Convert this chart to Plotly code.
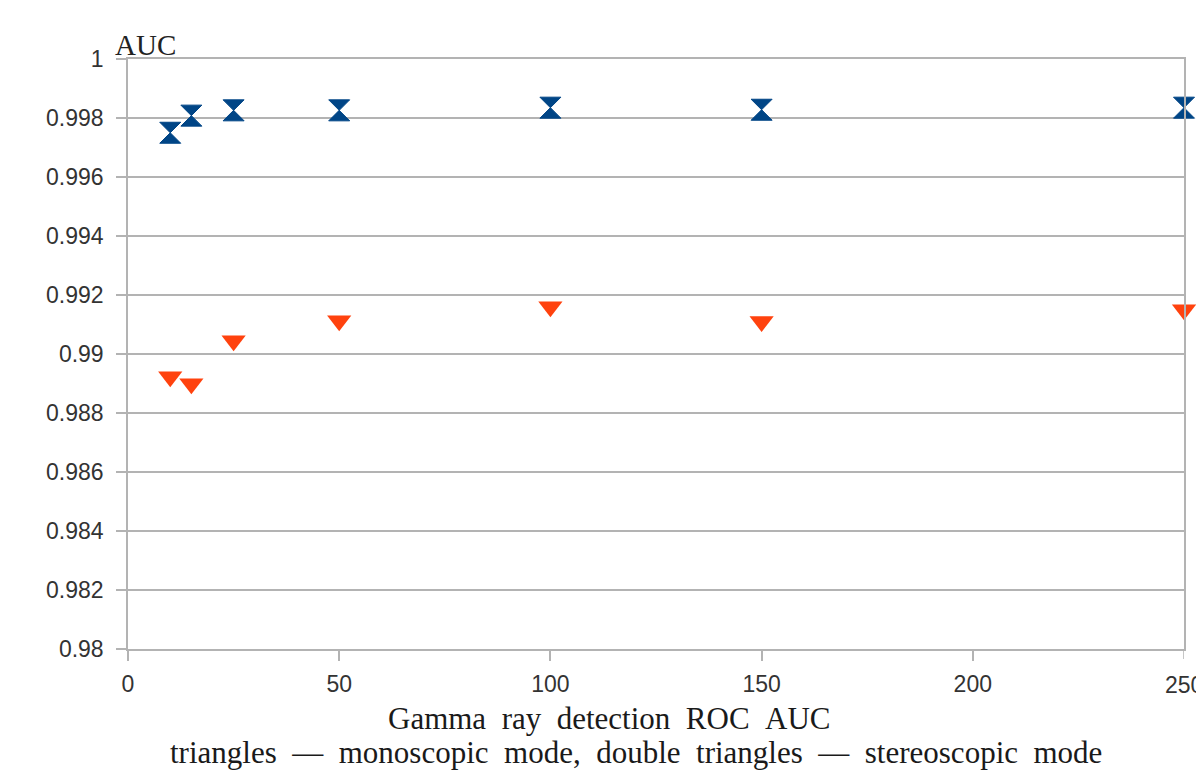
import plotly.graph_objects as go

# Data
sizes = [10, 15, 25, 50, 100, 150, 250]
stereo_auc = [0.99750, 0.99808, 0.99826, 0.99826, 0.99835, 0.99828, 0.99835]
mono_auc = [0.98923, 0.98899, 0.99045, 0.99113, 0.99160, 0.99110, 0.99150]

y_tickvals = [0.98, 0.982, 0.984, 0.986, 0.988, 0.99, 0.992, 0.994, 0.996, 0.998, 1.0]
y_ticktext = ["0.98", "0.982", "0.984", "0.986", "0.988", "0.99", "0.992", "0.994", "0.996", "0.998", "1"]
x_tickvals = [0, 50, 100, 150, 200, 250]
x_ticktext = ["0", "50", "100", "150", "200", "250"]

caption1 = "Gamma ray detection ROC AUC"
caption2 = "triangles — monoscopic mode, double triangles — stereoscopic mode"
y_label = "AUC"

BLUE = "#004586"
RED = "#ff420e"
GRID = "#b3b3b3"
TICKCOL = "#333333"
TICKFONT = dict(family="Liberation Sans, Arial, sans-serif", size=23, color=TICKCOL)

def spread(s, n=2):
    return s.replace(" ", "\u00a0" * n)

fig = go.Figure()
fig.add_trace(go.Scatter(
    x=sizes, y=stereo_auc, mode="markers", name="stereoscopic",
    marker=dict(symbol="hourglass", size=21, color=BLUE, line=dict(color=BLUE, width=1)),
    cliponaxis=False,
))
fig.add_trace(go.Scatter(
    x=sizes, y=mono_auc, mode="markers", name="monoscopic",
    marker=dict(symbol="triangle-down", size=21, color=RED, line=dict(color=RED, width=0)),
    cliponaxis=False,
))

annotations = [
    dict(text=y_label, xref="paper", yref="paper", x=-0.0142, y=1.0237,
         xanchor="left", yanchor="middle", showarrow=False,
         font=dict(family="Liberation Serif, serif", size=29, color="#222222")),
    dict(text=spread(caption1), xref="paper", yref="paper", x=0.4556, y=-0.117,
         xanchor="center", yanchor="middle", showarrow=False,
         font=dict(family="Liberation Serif, serif", size=31, color="#1a1a1a")),
    dict(text=spread(caption2), xref="paper", yref="paper", x=0.4806, y=-0.1746,
         xanchor="center", yanchor="middle", showarrow=False,
         font=dict(family="Liberation Serif, serif", size=31, color="#1a1a1a")),
]
# last x tick label (cut by the page edge in the reference)
annotations.append(dict(text=x_ticktext[-1], xref="x", yref="paper", x=x_tickvals[-1], y=-0.0610,
                        xanchor="center", yanchor="middle", showarrow=False, font=TICKFONT))

fig.update_layout(
    width=1196, height=770,
    margin=dict(l=128, r=10, t=59, b=121),
    paper_bgcolor="white", plot_bgcolor="white",
    showlegend=False,
    font=dict(family="Liberation Sans, Arial, sans-serif", size=23, color=TICKCOL),
    xaxis=dict(
        range=[0, 250], tickvals=x_tickvals[:-1], ticktext=x_ticktext[:-1],
        showgrid=False, zeroline=False,
        showline=True, linecolor=GRID, linewidth=1.5, mirror=True,
        ticks="outside", ticklen=10, tickcolor=GRID, tickwidth=1.5,
        tickfont=TICKFONT, ticklabelstandoff=4,
    ),
    yaxis=dict(
        range=[0.98, 1.0], tickvals=y_tickvals, ticktext=y_ticktext,
        showgrid=True, gridcolor=GRID, gridwidth=1.5, zeroline=False,
        showline=True, linecolor=GRID, linewidth=1.5, mirror=True,
        ticks="outside", ticklen=10, tickcolor=GRID, tickwidth=1.5,
        tickfont=TICKFONT, ticklabelstandoff=8,
    ),
    annotations=annotations,
)
# tick mark for x=250 (label drawn as annotation)
fig.add_shape(type="line", xref="x", yref="paper", x0=x_tickvals[-1], x1=x_tickvals[-1],
              y0=0, y1=-0.017, line=dict(color=GRID, width=1.5))

fig.write_html("out.html")
